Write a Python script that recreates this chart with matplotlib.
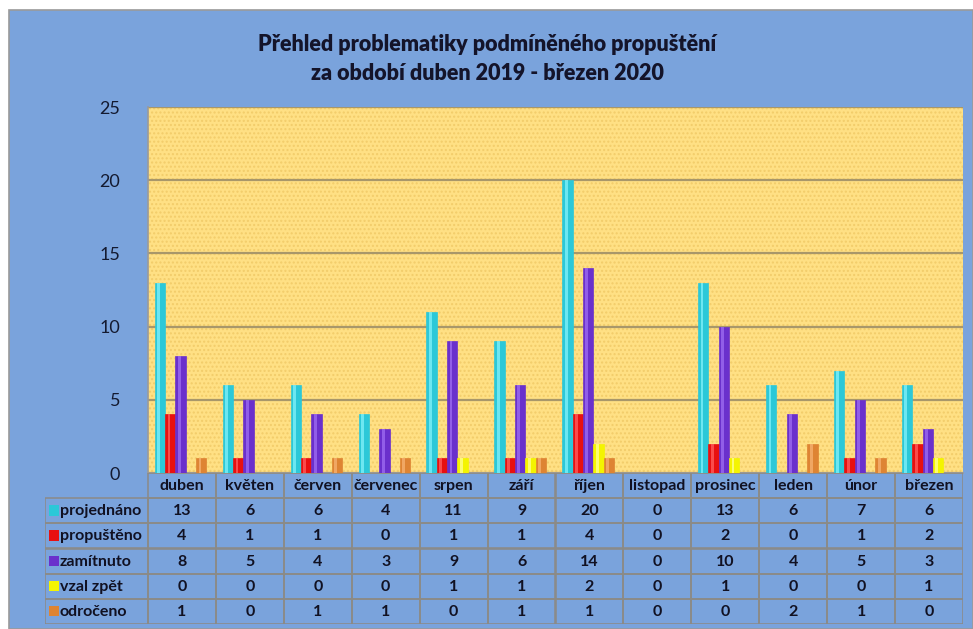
import matplotlib
matplotlib.use("Agg")
import matplotlib.pyplot as plt
from matplotlib.patches import Rectangle
import numpy as np

months = ["duben", "květen", "červen", "červenec", "srpen", "září", "říjen",
          "listopad", "prosinec", "leden", "únor", "březen"]
series_names = ["projednáno", "propuštěno", "zamítnuto", "vzal zpět", "odročeno"]
projednano = [13, 6, 6, 4, 11, 9, 20, 0, 13, 6, 7, 6]
propusteno = [4, 1, 1, 0, 1, 1, 4, 0, 2, 0, 1, 2]
zamitnuto = [8, 5, 4, 3, 9, 6, 14, 0, 10, 4, 5, 3]
vzal_zpet = [0, 0, 0, 0, 1, 1, 2, 0, 1, 0, 0, 1]
odroceno = [1, 0, 1, 1, 0, 1, 1, 0, 0, 2, 1, 0]
yticks = [0, 5, 10, 15, 20, 25]
title = "Přehled problematiky podmíněného propuštění\nza období duben 2019 - březen 2020"

series = [projednano, propusteno, zamitnuto, vzal_zpet, odroceno]
colors = ["#2CC8D8", "#E81010", "#6A30CC", "#F4F400", "#DE8433"]
highlights = ["#7EEFF8", "#FF5A5A", "#9B6AF0", "#FFFF90", "#F5B070"]

plt.rcParams['font.family'] = ['Lato', 'DejaVu Sans']

W, H = 973, 629
fig = plt.figure(figsize=(W / 100, H / 100), dpi=100)
fig.patch.set_facecolor("white")

# blue chart area
bg = Rectangle((9 / W, 0), 1 - 9 / W, 1 - 10 / H, transform=fig.transFigure,
               facecolor="#7AA3DC", edgecolor="#9A9A9A", lw=1.2, zorder=-10)
fig.patches.append(bg)

fig.text(487 / W, 1 - 59 / H, title, ha="center", va="center",
         fontsize=15.5, fontweight="heavy", color="#14142A", linespacing=1.45)

# main axes
L, R, T, B = 148, 963, 107, 473
ax = fig.add_axes([L / W, 1 - B / H, (R - L) / W, (B - T) / H])
ax.set_facecolor("#FFE084")
ax.add_patch(Rectangle((0, 0), 1, 1, transform=ax.transAxes, facecolor="none",
                       edgecolor="#F2CC6A", hatch="....", lw=0, zorder=0))
n = len(months)
x = np.arange(n)
bw = 0.152
for i, (vals, c, hc) in enumerate(zip(series, colors, highlights)):
    pos = x + (i - 2) * bw - 0.02
    ax.bar(pos, vals, width=bw, color=c, edgecolor=c, lw=0.5, zorder=3)
    ax.bar(pos - bw * 0.12, vals, width=bw * 0.28, color=hc, lw=0, zorder=4, alpha=0.8)
ax.set_xlim(-0.5, n - 0.5)
ax.set_ylim(0, 25)
ax.set_yticks(yticks)
ax.yaxis.grid(True, color="#A8976A", lw=1.6, zorder=1)
ax.set_axisbelow(True)
ax.set_xticks([])
ax.tick_params(axis="y", length=0, pad=20, labelsize=13, labelcolor="#141A30")
for s in ["top", "right"]:
    ax.spines[s].set_visible(False)
ax.spines["left"].set_color("#9A9A9A")
ax.spines["bottom"].set_color("#9A9A9A")
ax.spines["left"].set_linewidth(1.2)
ax.spines["bottom"].set_linewidth(1.2)

# table axes
TL, TB = 45, 624
colw = (R - L) / n
lab_w = (L - TL) / colw
tax = fig.add_axes([TL / W, 1 - TB / H, (R - TL) / W, (TB - B) / H])
tax.set_xlim(-0.5 - lab_w, n - 0.5)
tax.set_ylim(6, 0)
tax.axis("off")
lc = "#8C8A86"
fs = 11.5
# header
for j, m in enumerate(months):
    tax.add_patch(Rectangle((j - 0.5, 0), 1, 1, facecolor="none", edgecolor=lc, lw=1.1))
    tax.text(j, 0.52, m, ha="center", va="center", fontsize=fs, fontweight="bold",
             color="#111122")
for r, (name, vals, c) in enumerate(zip(series_names, series, colors)):
    yy = r + 1
    tax.add_patch(Rectangle((-0.5 - lab_w, yy), lab_w, 1, facecolor="none",
                            edgecolor=lc, lw=1.1))
    tax.add_patch(Rectangle((-0.5 - lab_w + 0.06, yy + 0.28), 0.14, 0.42,
                            facecolor=c, edgecolor="none"))
    tax.text(-0.5 - lab_w + 0.22, yy + 0.52, name, ha="left", va="center",
             fontsize=fs, fontweight="bold", color="#111122")
    for j, v in enumerate(vals):
        tax.add_patch(Rectangle((j - 0.5, yy), 1, 1, facecolor="none", edgecolor=lc, lw=1.1))
        tax.text(j, yy + 0.52, str(v), ha="center", va="center", fontsize=fs,
                 fontweight="bold", color="#111122")

fig.savefig("out.png", dpi=100, facecolor=fig.get_facecolor())
